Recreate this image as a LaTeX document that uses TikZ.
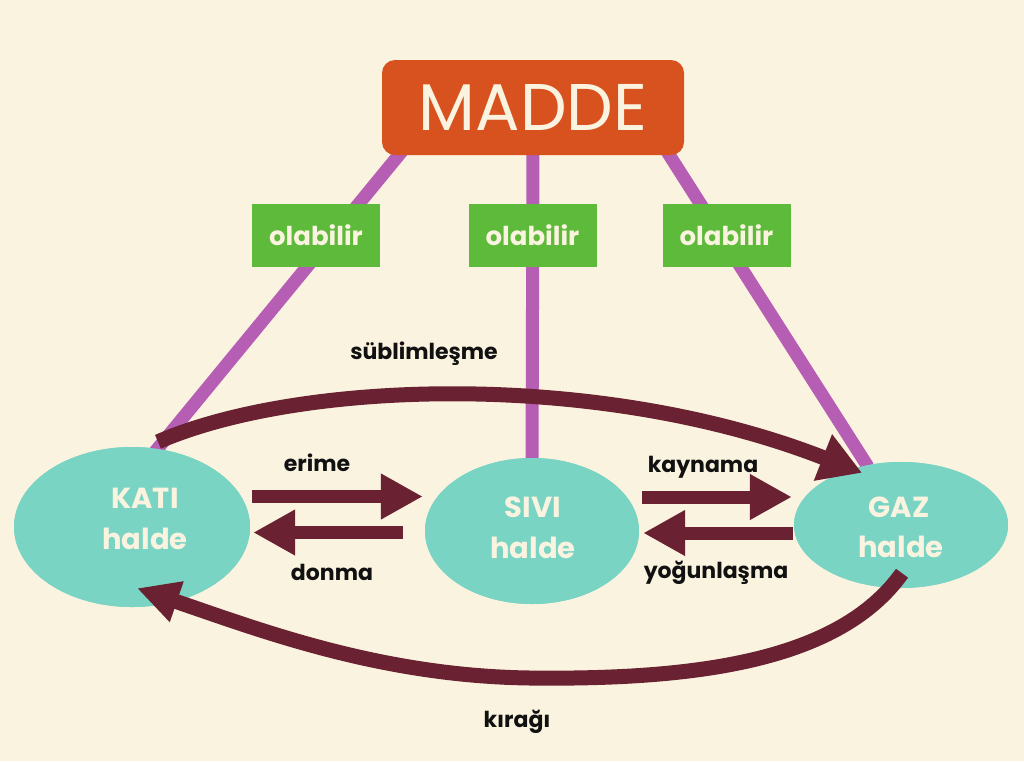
\documentclass[tikz,border=0pt]{standalone}
\usepackage{fontspec}
\setmainfont{Poppins}
\usetikzlibrary{shapes.geometric,arrows.meta,calc}
\definecolor{bgc}{HTML}{FAF3DF}
\definecolor{maddec}{HTML}{D8521F}
\definecolor{purplec}{HTML}{B65DB4}
\definecolor{greenc}{HTML}{5DBA3B}
\definecolor{turqc}{HTML}{7AD4C4}
\definecolor{maroonc}{HTML}{6A2232}
\definecolor{txtc}{HTML}{111111}
\tikzset{
  link/.style={draw=purplec, line width=13pt},
  olab/.style={fill=greenc, minimum width=128pt, minimum height=63pt, inner sep=0pt,
    text=bgc, font=\fontsize{26}{30}\selectfont\bfseries},
  state/.style={ellipse, fill=turqc, inner sep=0pt},
  stxt/.style={anchor=base, text=bgc, font=\fontsize{29}{32}\selectfont\bfseries},
  lbl/.style={anchor=base, text=txtc, font=\fontsize{22}{26}\selectfont\bfseries},
  bigarr/.style={draw=maroonc, line width=13pt, -{Triangle[length=42pt,width=43pt]}},
  curvarr/.style={draw=maroonc, line width=15pt, line cap=butt},
}
\begin{document}
\begin{tikzpicture}[x=1pt,y=-1pt]
\fill[bgc] (0,0) rectangle (1024,761);
\useasboundingbox (0,0) rectangle (1024,761);

% nodes (shapes positioned, drawn later in order)
\path node[rectangle, minimum width=302pt, minimum height=95pt] (madde) at (533,107.5) {};
\path node[state, minimum width=236pt, minimum height=160pt] (kati) at (132,527) {};
\path node[state, minimum width=214pt, minimum height=146pt] (sivi) at (532,531) {};
\path node[state, minimum width=214pt, minimum height=126pt] (gaz) at (901,525) {};

% purple links
\draw[link] ($(madde.south west)+(21,-5)$) -- ($(kati.north)+(23,5)$);
\draw[link] ($(madde.south)+(0,-5)$) -- ($(sivi.north)+(0,6)$);
\draw[link] ($(madde.south east)+(-18,-5)$) -- ($(gaz.north)+(-33,5)$);

% MADDE box
\node[rectangle, rounded corners=13pt, fill=maddec, minimum width=302pt, minimum height=95pt,
  text=bgc, font=\fontsize{66}{72}\selectfont] (maddebox) at (533,107.5) {MADDE};

% olabilir boxes
\node[olab] (ol1) at (316,235.5) {olabilir};
\node[olab] (ol2) at (532.5,235.5) {olabilir};
\node[olab] (ol3) at (726.5,235.5) {olabilir};

% ellipses
\fill[turqc] (kati.center) ellipse [x radius=118pt, y radius=80pt];
\fill[turqc] (sivi.center) ellipse [x radius=107pt, y radius=73pt];
\fill[turqc] (gaz.center) ellipse [x radius=107pt, y radius=63pt];

\node[stxt] (kt1) at (145,508) {KATI};
\node[stxt] (kt2) at (145,549) {halde};
\node[stxt] (st1) at (533,517) {SIVI};
\node[stxt] (st2) at (533,558) {halde};
\node[stxt] (gt1) at (899,517) {GAZ};
\node[stxt] (gt2) at (901,557) {halde};

% straight arrows
\draw[bigarr] ($(kati.east)+(2,-30.5)$) -- ($(sivi.west)+(-2,-34.5)$);
\draw[bigarr] ($(sivi.west)+(-22,1.5)$) -- ($(kati.east)+(3,5.5)$);
\draw[bigarr] ($(sivi.east)+(3,-34)$) -- ($(gaz.west)+(-2,-28)$);
\draw[bigarr] ($(gaz.west)+(-1,8)$) -- ($(sivi.east)+(4,2)$);

% curved arrows
\draw[curvarr, -{Triangle[length=42pt,width=47pt]}]
  ($(kati.north)+(26,-5)$) .. controls (300,380) and (600,370) .. ($(gaz.north)+(-39,11)$);
\draw[curvarr, -{Triangle[length=42pt,width=40pt]}]
  ($(gaz.south)+(1,-15)$) .. controls (840,660) and (700,680) .. (530,678)
  .. controls (380,676) and (260,630) .. ($(kati.south)+(5,-19)$);

% labels
\node[lbl] (l1) at (317,471) {erime};
\node[lbl] (l2) at (332,580) {donma};
\node[lbl] (l3) at (703,472) {kaynama};
\node[lbl] (l4) at (716,578) {yoğunlaşma};
\node[lbl] (l5) at (424,359) {süblimleşme};
\node[lbl] (l6) at (517,727) {kırağı};
\end{tikzpicture}
\end{document}
